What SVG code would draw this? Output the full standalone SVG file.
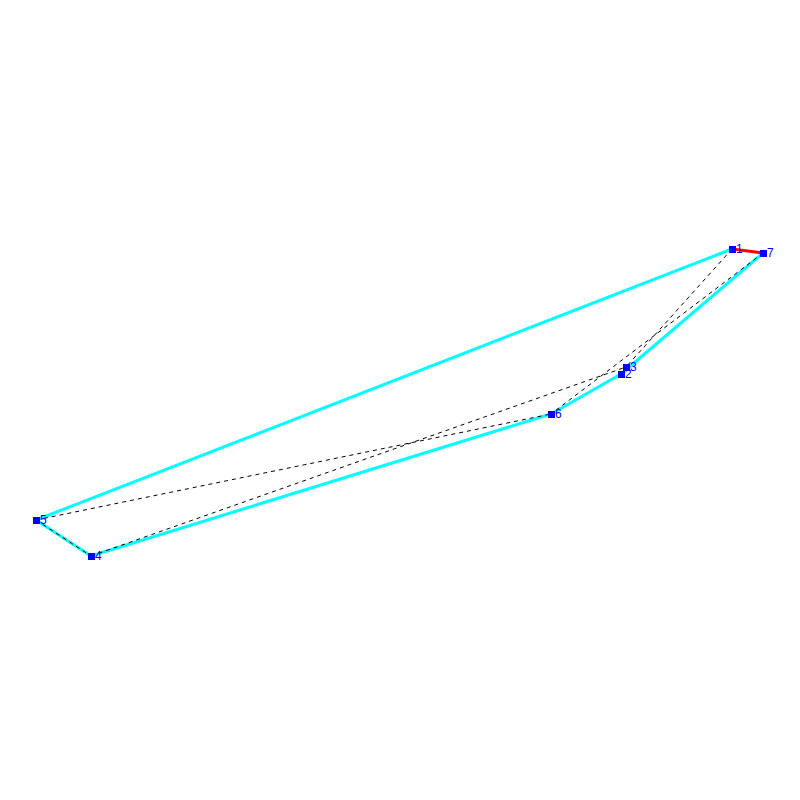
<svg xmlns="http://www.w3.org/2000/svg" width="800" height="800" viewBox="0 0 800 800">
<style>
.e{stroke:#00ffff;stroke-width:3;fill:none}
.r{stroke:#ff0000;stroke-width:3;fill:none}
.d{stroke:#000000;stroke-width:1;stroke-dasharray:4,4;fill:none}
.n rect{fill:#0000ff}
.n text{fill:#0000ff;font-family:"Liberation Sans",Arial,sans-serif;font-size:12px}
</style>
<rect width="800" height="800" fill="#ffffff"/>
<g id="connectors">
<line class="e" x1="732" y1="249" x2="36" y2="520"/>
<line class="e" x1="36" y1="520" x2="91" y2="556"/>
<line class="e" x1="91" y1="556" x2="551" y2="414"/>
<line class="e" x1="551" y1="414" x2="621" y2="374"/>
<line class="e" x1="621" y1="374" x2="763" y2="253"/>
<line class="r" x1="732" y1="249" x2="763" y2="253"/>
<line class="d" x1="36" y1="520" x2="91" y2="556"/>
<line class="d" x1="36" y1="520" x2="551" y2="414"/>
<line class="d" x1="91" y1="556" x2="626" y2="367"/>
<line class="d" x1="732" y1="249" x2="626" y2="367"/>
<line class="d" x1="763" y1="253" x2="551" y2="414"/>
</g>
<g id="node1" class="n"><rect x="729" y="246" width="7" height="7"/><text x="736" y="253">1</text></g>
<g id="node7" class="n"><rect x="760" y="250" width="7" height="7"/><text x="767" y="257">7</text></g>
<g id="node3" class="n"><rect x="623" y="364" width="7" height="7"/><text x="630" y="371">3</text></g>
<g id="node2" class="n"><rect x="618" y="371" width="7" height="7"/><text x="625" y="378">2</text></g>
<g id="node6" class="n"><rect x="548" y="411" width="7" height="7"/><text x="555" y="418">6</text></g>
<g id="node5" class="n"><rect x="33" y="517" width="7" height="7"/><text x="40" y="524">5</text></g>
<g id="node4" class="n"><rect x="88" y="553" width="7" height="7"/><text x="95" y="560">4</text></g>
</svg>
